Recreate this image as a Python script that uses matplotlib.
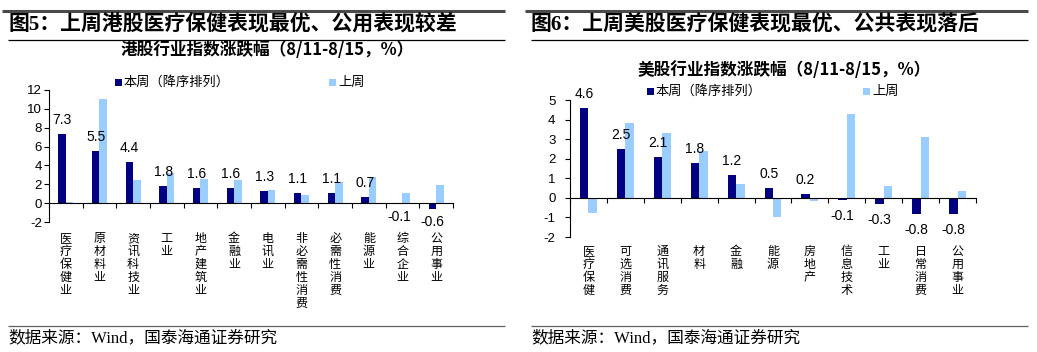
import numpy as np
import matplotlib
matplotlib.use("Agg")
import matplotlib.pyplot as plt
from matplotlib.patches import Rectangle
from matplotlib.lines import Line2D

# ---------------- data ----------------
hk_categories = ["医疗保健业", "原材料业", "资讯科技业", "工业", "地产建筑业", "金融业",
                 "电讯业", "非必需性消费", "必需性消费", "能源业", "综合企业", "公用事业"]
hk_this_week = [7.3, 5.5, 4.4, 1.8, 1.6, 1.6, 1.3, 1.1, 1.1, 0.7, -0.1, -0.6]
hk_last_week = [0.1, 11.0, 2.5, 3.2, 2.6, 2.5, 1.4, 0.9, 2.25, 2.8, 1.05, 1.9]
hk_yticks = [-2, 0, 2, 4, 6, 8, 10, 12]

us_categories = ["医疗保健", "可选消费", "通讯服务", "材料", "金融", "能源",
                 "房地产", "信息技术", "工业", "日常消费", "公用事业"]
us_this_week = [4.6, 2.5, 2.1, 1.8, 1.2, 0.5, 0.2, -0.1, -0.3, -0.8, -0.8]
us_last_week = [-0.78, 3.82, 3.31, 2.4, 0.72, -0.99, -0.14, 4.28, 0.61, 3.12, 0.36]
us_yticks = [-2, -1, 0, 1, 2, 3, 4, 5]

legend_labels = ["本周（降序排列）", "上周"]
titles = ["图5：上周港股医疗保健表现最优、公用表现较差", "图6：上周美股医疗保健表现最优、公共表现落后"]
subtitles = ["港股行业指数涨跌幅（8/11-8/15，%）", "美股行业指数涨跌幅（8/11-8/15，%）"]
source = "数据来源：Wind，国泰海通证券研究"

DARK = "#000080"
LIGHT = "#99CCFF"
CJK = ["Noto Sans CJK SC", "DejaVu Sans"]
SERIF_CJK = ["Liberation Serif", "Noto Sans CJK SC", "DejaVu Sans"]
NUM = ["Liberation Sans", "DejaVu Sans"]

W, H = 1037, 352
fig = plt.figure(figsize=(W / 100, H / 100), dpi=100)


def fx(px):
    return px / W


def fy(py):
    return 1 - py / H


def hline(x0, x1, y, color, lw):
    fig.add_artist(Line2D([fx(x0), fx(x1)], [fy(y), fy(y)], transform=fig.transFigure,
                          color=color, lw=lw, solid_capstyle="butt"))


def panel(cats, this, last, yticks, ax_box, bw, title, subtitle, xoff, sub_xy,
          leg_y, leg_x1, leg_x2, ypad, cat_top, neg_off):
    x0, y0, x1, y1 = ax_box
    ax = fig.add_axes([fx(x0), fy(y1), fx(x1) - fx(x0), fy(y0) - fy(y1)])
    n = len(cats)
    x = np.arange(n)
    ax.bar(x - bw / 2, this, bw, color=DARK, zorder=2)
    ax.bar(x + bw / 2, last, bw, color=LIGHT, zorder=2)
    ax.set_xlim(-0.5, n - 0.5)
    ax.set_ylim(yticks[0], yticks[-1])
    ax.set_yticks(yticks)
    ax.set_yticklabels([str(t) for t in yticks], fontfamily=NUM, fontsize=9.5)
    ax.tick_params(axis="y", direction="out", length=3.5, width=0.8, pad=ypad)
    ax.set_xticks(np.arange(-0.5, n, 1))
    ax.set_xticklabels([])
    ax.tick_params(axis="x", direction="out", length=3.5, width=0.8)
    for s in ["top", "right"]:
        ax.spines[s].set_visible(False)
    ax.spines["bottom"].set_position(("data", 0))
    ax.spines["bottom"].set_linewidth(0.8)
    ax.spines["left"].set_linewidth(0.8)
    ax.patch.set_alpha(0)
    for i, v in enumerate(this):
        off = 10.0 if v >= 0 else neg_off
        ax.annotate(f"{v:.1f}", (x[i] - bw / 2, v), xytext=(0, off), textcoords="offset points",
                    ha="center", va="center", fontsize=10, fontfamily=NUM, annotation_clip=False)
    # vertical category labels
    for i, c in enumerate(cats):
        xc = fx(x0) + (fx(x1) - fx(x0)) * (i + 0.5) / n
        fig.text(xc, fy(cat_top), "\n".join(c), ha="center", va="top", fontsize=8.7,
                 fontfamily=CJK, linespacing=1.0)
    # titles and lines
    hline(xoff - 3, xoff + 500, 10.5, "#4a4a4a", 2.2)
    fig.text(fx(xoff + 3), fy(25), title, ha="left", va="center", fontsize=15,
             fontfamily=SERIF_CJK, fontweight="bold")
    hline(xoff + 3, xoff + 500, 40, "black", 0.9)
    fig.text(fx(sub_xy[0]), fy(sub_xy[1]), subtitle, ha="center", va="center", fontsize=12,
             fontfamily=CJK, fontweight="bold")
    # legend
    for lx, col, lab in [(leg_x1, DARK, legend_labels[0]), (leg_x2, LIGHT, legend_labels[1])]:
        fig.add_artist(Rectangle((fx(lx), fy(leg_y + 3.5)), fx(7), 7 / H, transform=fig.transFigure,
                                 color=col, lw=0))
        fig.text(fx(lx + 9), fy(leg_y), lab, ha="left", va="center", fontsize=9.5, fontfamily=CJK)
    hline(xoff + 3, xoff + 500, 325.5, "#606060", 0.9)
    fig.text(fx(xoff + 3), fy(338), source, ha="left", va="center", fontsize=12,
             fontfamily=SERIF_CJK)
    return ax


panel(hk_categories, hk_this_week, hk_last_week, hk_yticks, (49, 90, 453, 222), 0.22,
      titles[0], subtitles[0], 5, (267, 50), 82, 115, 329, 1.5, 232, -9.5)
panel(us_categories, us_this_week, us_last_week, us_yticks, (570, 100.3, 976, 237), 0.23,
      titles[1], subtitles[1], 528, (784, 70), 91, 647, 863, 7, 245, -11.5)

fig.savefig("out.png", dpi=100)
